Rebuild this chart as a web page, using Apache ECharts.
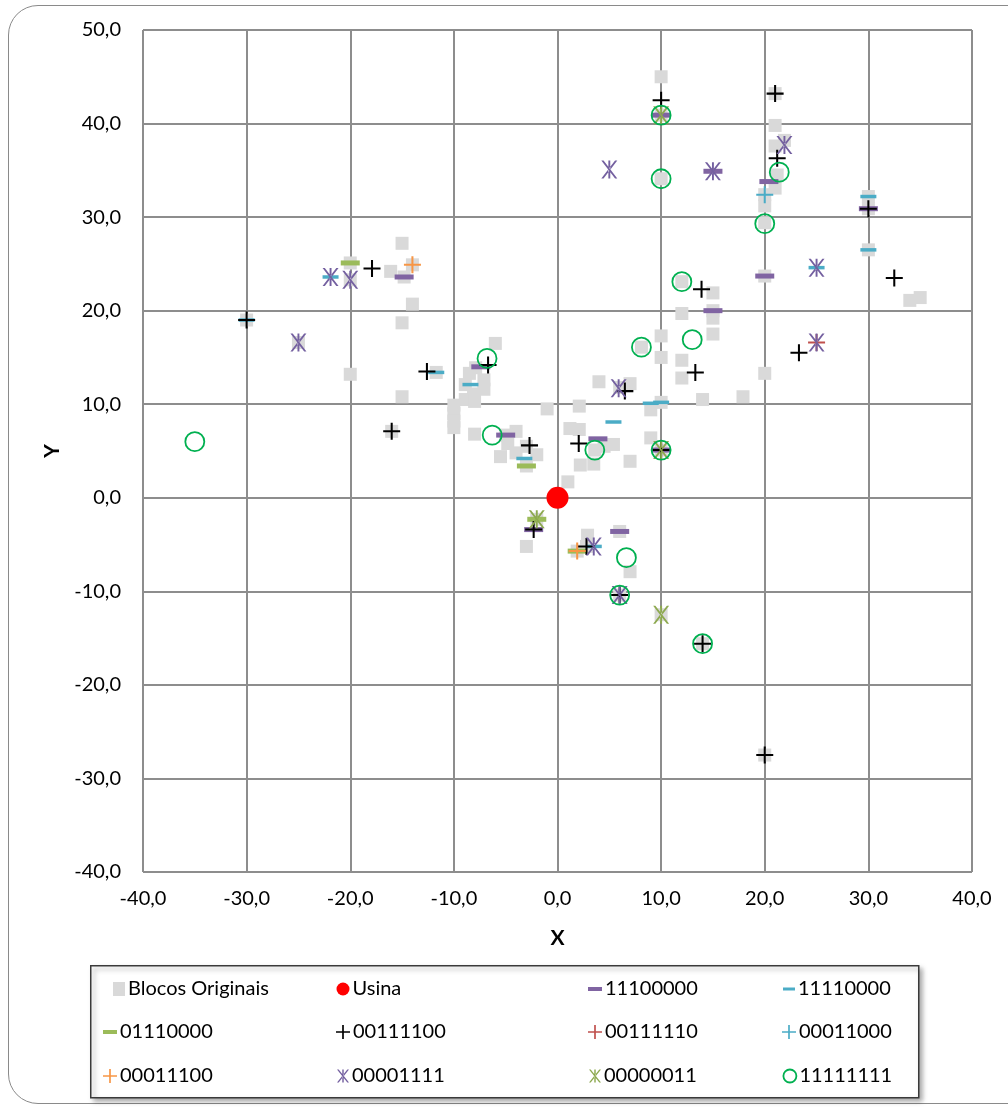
<!DOCTYPE html>
<html><head><meta charset="utf-8">
<script src="https://cdn.jsdelivr.net/npm/echarts@6/dist/echarts.min.js"></script>
<style>
html,body{margin:0;padding:0;background:#fff;}
#card{position:absolute;left:8px;top:5px;width:1030px;height:1099px;border:1.5px solid #8a8a8a;border-radius:30px;box-sizing:border-box;}
#chart{position:absolute;left:0;top:0;width:1008px;height:1111px;}
</style></head><body><div id="card"></div><div id="chart"></div>
<script>
// ---- data (X, Y) ----
const xTicks = [-40, -30, -20, -10, 0, 10, 20, 30, 40];
const yTicks = [-40, -30, -20, -10, 0, 10, 20, 30, 40, 50];

const blocosOriginais = [
  [10,45.0],[21,43.2],[21,39.8],[21,37.6],[21.9,38.2],[21.2,34.5],[21,33.1],[20,32.4],[20,31.2],[20,29.4],
  [10,40.9],[10,34.1],[30,32.2],[30,30.9],[30,26.5],[20,23.7],[34,21.1],[35,21.4],[20,13.3],[17.9,10.8],
  [14,10.5],[15,21.9],[15,20.0],[15,19.2],[15,17.5],[12,19.7],[12,23.1],[10,17.3],[10,15.0],[12,14.7],
  [12,12.8],[8.1,16.1],[4,12.4],[7,12.2],[6,11.8],[10,10.2],[9,9.4],[2.1,9.8],[-1,9.5],[1.2,7.4],
  [2.1,7.3],[2.2,3.5],[3.5,3.6],[4.5,5.5],[5.4,5.7],[3.6,5.1],[9,6.4],[10,5.1],[7,3.9],[1,1.7],
  [-3,-5.2],[2.9,-4.0],[1.9,-5.7],[2.8,-5.2],[6,-3.6],[7,-7.9],[6,-10.4],[10,-12.5],[14,-15.6],[20,-27.5],
  [-15,27.2],[-16.1,24.2],[-14.8,23.6],[-14,24.9],[-20,25.1],[-20,23.3],[-14,20.7],[-15,18.7],[-30,19.0],[-25,16.6],
  [-20,13.2],[-15,10.8],[-16,7.1],[-11.7,13.4],[-6,16.5],[-7.9,13.9],[-8.5,13.3],[-8.9,12.1],[-7.1,11.6],[-7.1,12.6],
  [-8.1,11.1],[-8.9,10.5],[-10,9.9],[-10,9.0],[-10,8.2],[-10,7.5],[-8,10.3],[-8,6.8],[-4,7.1],[-5.5,4.4],
  [-4.8,5.8],[-4,4.8],[-3,5.5],[-2,4.6],[-3,3.4],[-5,6.7],[-2,-2.3]
];
const usina = [[0,0]];
const s11100000 = [[-14.8,23.6],[-7.4,14.0],[-5,6.7],[-2.3,-3.4],[3.9,6.3],[6,-3.6],[15,20.0],[20,23.7],[20.4,33.8],[30,30.9],[10,40.9],[15,34.9],[10,5.1]];
const s11110000 = [[-11.7,13.4],[-8.4,12.1],[-3.2,4.2],[5.4,8.1],[9,10.1],[10,10.2],[30,32.2],[30,26.5],[25,24.6],[-21.9,23.6],[3.5,-5.2],[-30,19.0]];
const s01110000 = [[-20,25.1],[-3,3.4],[-2,-2.3],[1.9,-5.7]];
const s00111100 = [[-30,19.0],[-17.9,24.5],[-16,7.1],[-12.6,13.5],[-6.7,14.2],[-2.7,5.6],[-2.3,-3.4],[2.05,5.8],[2.8,-5.2],[6.5,11.4],[6,-10.4],[10,42.5],[10,5.1],[13.3,13.4],[13.9,22.3],[14,-15.6],[20,-27.5],[21,43.2],[21.2,36.3],[23.3,15.5],[30,30.9],[32.5,23.5]];
const s00111110 = [[25,16.6]];
const s00011000 = [[20,32.4]];
const s00011100 = [[-14,24.9],[1.9,-5.7]];
const s00001111 = [[-21.9,23.6],[-20,23.3],[-25,16.6],[5,35.1],[15,34.9],[21.9,37.7],[25,24.6],[25,16.6],[5.9,11.7],[3.5,-5.2],[6,-10.4]];
const s00000011 = [[-2,-2.3],[10,-12.5],[10,5.1],[10,40.9]];
const s11111111 = [[-35,6.0],[-6.8,14.9],[-6.3,6.7],[3.6,5.1],[6.65,-6.4],[6,-10.4],[8.1,16.1],[10,5.1],[10,34.1],[10,40.9],[12,23.1],[13,16.9],[14,-15.6],[20,29.3],[21.4,34.8]];

// ---- marker shapes ----
const PLUS = 'path://M4.4,0H5.6V10H4.4Z M0,4.4H10V5.6H0Z';
const STAR = 'path://M4.45,0H5.55V10H4.45Z M0.4,0L1.7,0L9.6,10L8.3,10Z M9.6,0L8.3,0L0.4,10L1.7,10Z';

const FONT = 'Lato';

const seriesDefs = [
  {name:'Blocos Originais', data:blocosOriginais, symbol:'rect', size:13, style:{color:'#D9D9D9'}, icon:'rect', iw:12, ih:14, dx:9},
  {name:'Usina', data:usina, symbol:'circle', size:22, style:{color:'#FF0000'}, icon:'circle', iw:13, ih:13},
  {name:'11100000', data:s11100000, symbol:'rect', size:[19,5], style:{color:'#8064A2'}, icon:'rect', iw:14, ih:4},
  {name:'11110000', data:s11110000, symbol:'rect', size:[16,3.5], style:{color:'#4BACC6'}, icon:'rect', iw:12, ih:3},
  {name:'01110000', data:s01110000, symbol:'rect', size:[19,5], style:{color:'#9BBB59'}, icon:'rect', iw:14, ih:4},
  {name:'00111100', data:s00111100, symbol:PLUS, size:17, style:{color:'#000000'}, icon:PLUS, iw:14, ih:14},
  {name:'00111110', data:s00111110, symbol:PLUS, size:17, style:{color:'#C0504D'}, icon:PLUS, iw:14, ih:14},
  {name:'00011000', data:s00011000, symbol:PLUS, size:17, style:{color:'#4BACC6'}, icon:PLUS, iw:14, ih:14},
  {name:'00011100', data:s00011100, symbol:PLUS, size:17, style:{color:'#F79646'}, icon:PLUS, iw:14, ih:14},
  {name:'00001111', data:s00001111, symbol:STAR, size:[16,18], style:{color:'#7460A0'}, icon:STAR, iw:12, ih:14},
  {name:'00000011', data:s00000011, symbol:STAR, size:[16,18], style:{color:'#8DA94F'}, icon:STAR, iw:12, ih:14},
  {name:'11111111', data:s11111111, symbol:'circle', size:19, style:{color:'rgba(0,0,0,0)', borderColor:'#00B050', borderWidth:1.8}, icon:'circle', iw:13, ih:13}
];

// legend grid, filled row by row
const legendCols = [110, 343, 595, 789];
const legendRows = [989, 1032, 1076];

const fmt = v => v.toFixed(1).replace('.', ',');

const legends = seriesDefs.map((d, i) => {
  const col = i % 4, row = Math.floor(i / 4);
  return {
    left: legendCols[col] - d.iw / 2 + (d.dx || 0),
    top: legendRows[row] - 12,
    padding: 0,
    itemWidth: d.iw,
    itemHeight: d.ih,
    itemGap: 0,
    selectedMode: false,
    textStyle: {fontFamily: FONT, fontSize: 20, color: '#000', lineHeight: 24, padding:[0,0,0,-2]},
    data: [{name: d.name, icon: d.icon, itemStyle: d.style}]
  };
});

const chart = echarts.init(document.getElementById('chart'), null, {renderer: 'canvas'});
chart.setOption({
  animation: false,
  backgroundColor: 'transparent',
  grid: {left: 143, top: 30, width: 829, height: 842},
  xAxis: {
    type: 'value', min: xTicks[0], max: xTicks[xTicks.length - 1], interval: 10,
    axisLine: {show: false}, axisTick: {show: false},
    splitLine: {lineStyle: {color: '#8d8d8d', width: 2}},
    axisLabel: {formatter: fmt, fontFamily: FONT, fontSize: 20, color: '#000', margin: 17},
    name: 'X', nameLocation: 'middle', nameGap: 56,
    nameTextStyle: {fontFamily: FONT, fontSize: 21, fontWeight: 'bold', color: '#000'}
  },
  yAxis: {
    type: 'value', min: yTicks[0], max: yTicks[yTicks.length - 1], interval: 10,
    axisLine: {show: false}, axisTick: {show: false},
    splitLine: {lineStyle: {color: '#8d8d8d', width: 2}},
    axisLabel: {formatter: fmt, fontFamily: FONT, fontSize: 20, color: '#000', margin: 22},
    name: 'Y', nameLocation: 'middle', nameGap: 80, nameRotate: 90,
    nameTextStyle: {fontFamily: FONT, fontSize: 21, fontWeight: 'bold', color: '#000'}
  },
  legend: legends,
  graphic: [{
    type: 'rect', left: 90, top: 965, z: -1,
    shape: {width: 828, height: 132},
    style: {fill: '#fff', stroke: '#3a3a3a', lineWidth: 1.5,
            shadowBlur: 5, shadowOffsetX: 3, shadowOffsetY: 3, shadowColor: 'rgba(0,0,0,0.35)'}
  }],
  series: seriesDefs.map(d => ({
    name: d.name, type: 'scatter', data: d.data,
    symbol: d.symbol, symbolSize: d.size,
    itemStyle: Object.assign({opacity: 1}, d.style),
    emphasis: {disabled: true}
  }))
});
</script></body></html>
